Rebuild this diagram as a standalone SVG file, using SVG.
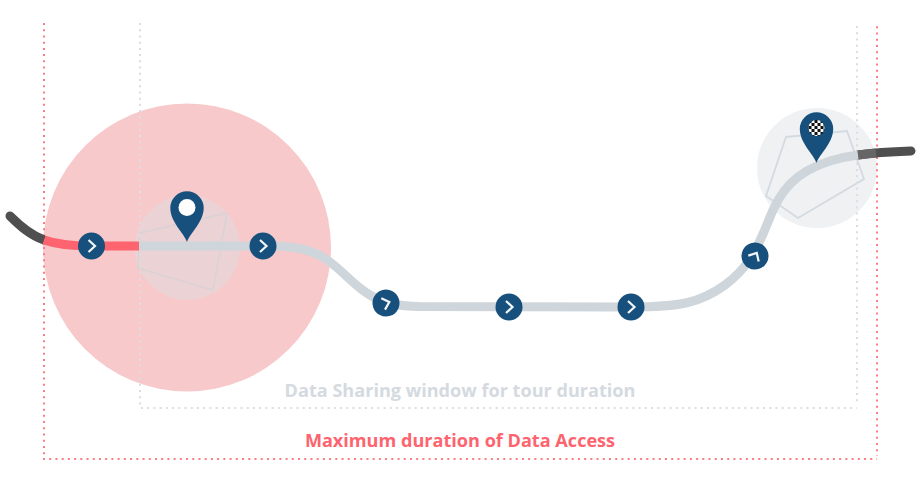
<svg xmlns="http://www.w3.org/2000/svg" width="920" height="479" viewBox="0 0 920 479">
<defs>
<pattern id="checks" x="808.5" y="120" width="6" height="6" patternUnits="userSpaceOnUse">
<rect width="6" height="6" fill="#fff"/>
<rect width="3" height="3" fill="#111"/>
<rect x="3" y="3" width="3" height="3" fill="#111"/>
</pattern>
<path id="pin" d="M0,0 C-3,-9 -16.700,-20 -16.700,-34 A16.700,16.700 0 1 1 16.700,-34 C16.700,-20 3,-9 0,0 Z"/>
<g id="stop"><circle r="13.500" fill="#17507c"/><path d="M-3,-6 L3.500,0 L-3,6" fill="none" stroke="#f4f7f9" stroke-width="2.200"/></g>
</defs>
<style>
.route{fill:none;stroke-width:9}
.grey{stroke:#ced5db}
.dark{stroke:#4f4f4f;stroke-linecap:round}
.red{stroke:#fd646f}
.plot{fill:none;stroke-width:2}
.dotred{stroke:#fd7c85;stroke-dasharray:2 4.220}
.dotgrey{stroke:#d9dee3;stroke-dasharray:2 4.220}
.poly{fill:none;stroke-width:1.800}
.lab{font-family:"Open Sans",sans-serif;font-weight:700;font-size:18.100px;text-anchor:middle}
</style>
<g id="access-zone"><circle cx="187" cy="247.500" r="144" fill="#f8c9cb"/></g>
<g id="start-zone"><circle cx="187.500" cy="247.500" r="52.500" fill="#ebd3d5"/><path class="poly" stroke="#dcd2d6" d="M140,233 L227,213 L213,290 L138,268 Z"/></g>
<g id="end-zone"><circle cx="817" cy="168" r="60" fill="#eff1f3"/><path class="poly" stroke="#d3dae0" d="M786,137 L847,131 L864,179 L798,218 L766,196 Z"/></g>
<g id="bounds">
<path class="plot dotred" d="M44,23 V456 M43,459 H877 M877,26.300 V456"/>
<path class="plot dotgrey" d="M140,23 V405 M141,408 H857 M857,26 V402"/>
</g>
<g id="connectors">
<path class="route dark" d="M10,216 C20,226 30,235 44,240"/>
<path class="route dark" d="M858,155 C875,152.500 895,151.500 911,151"/>
<path class="route" stroke="#666" d="M858,155 L876,153"/>
<path class="route red" d="M44,240 C60,245.500 75,246 91,246 H139"/>
<path class="route grey" d="M139,246 H263 C290,246 310,247 330,262 C345,273 360,292 378,299 C385,304 400,306 420,306.500 L630,307 C680,307 700,303 725,285 C745,270 755,255 768,222 C780,190 795,172 830,161 C840,158 850,156 858,155"/>
</g>
<g id="pin-start"><use href="#pin" x="187" y="242" fill="#17507c"/><circle cx="187" cy="207.500" r="8.500" fill="#fff"/></g>
<g id="pin-end"><use href="#pin" x="816.500" y="163" fill="#17507c"/><circle cx="816.500" cy="128" r="8" fill="url(#checks)"/></g>
<g id="stop-1"><use href="#stop" transform="translate(91.500,246)"/></g>
<g id="stop-2"><use href="#stop" transform="translate(263,246)"/></g>
<g id="stop-3"><use href="#stop" transform="translate(386,303) rotate(-18)"/></g>
<g id="stop-4"><use href="#stop" transform="translate(509,307)"/></g>
<g id="stop-5"><use href="#stop" transform="translate(631,307)"/></g>
<g id="stop-6"><use href="#stop" transform="translate(755,256) rotate(-60)"/></g>
<g id="labels">
<text class="lab" x="460" y="397" fill="#d4dae0">Data Sharing window for tour duration</text>
<text class="lab" x="460" y="447" fill="#fd646f">Maximum duration of Data Access</text>
</g>
</svg>
